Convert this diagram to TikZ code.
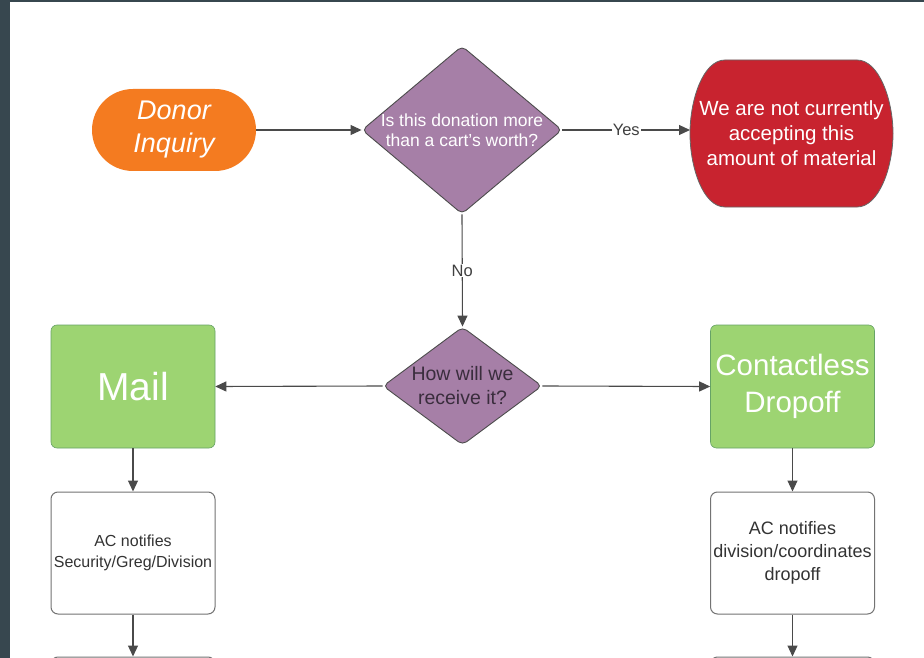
\documentclass[tikz,border=0pt]{standalone}
\usepackage{fontspec}
\setmainfont{Liberation Sans}
\usetikzlibrary{shapes.geometric,arrows.meta}
\definecolor{framecol}{HTML}{37474F}
\definecolor{orangecol}{HTML}{F47B20}
\definecolor{purplecol}{HTML}{A67FA7}
\definecolor{redcol}{HTML}{C8232F}
\definecolor{greencol}{HTML}{9DD472}
\definecolor{linecol}{HTML}{4A4A4A}
\definecolor{darktext}{HTML}{3A2D3D}
\begin{document}
\begin{tikzpicture}[x=1pt,y=-1pt,
  conn/.style={draw=linecol,line width=1.1pt,-{Triangle[length=11pt,width=10pt]}},
  decision/.style={diamond,draw=black!70,line width=0.9pt,fill=purplecol,rounded corners=5pt,inner sep=0pt},
  greenbox/.style={rectangle,draw=green!40!black!60,line width=0.6pt,fill=greencol,rounded corners=6pt,minimum width=164pt,minimum height=123pt,text=white,align=center,inner sep=0pt},
  whitebox/.style={rectangle,draw=black!55,line width=1pt,fill=white,rounded corners=7pt,minimum width=164pt,minimum height=122pt,text=black!80,align=center,inner sep=0pt},
  edgelabel/.style={fill=white,text=black!75,font=\fontsize{16.5}{19}\selectfont,inner sep=1pt}
]
\clip (0,0) rectangle (924,658);
\fill[framecol] (0,0) rectangle (924,658);
\fill[white] (10,2.5) rectangle (924,658);

\node[rectangle,fill=orangecol,rounded corners=41pt,minimum width=164pt,minimum height=82pt,inner sep=0pt,text=white,align=center,font=\fontsize{27}{33}\selectfont\itshape] (donor) at (174,130) {Donor\\Inquiry};

\node[decision,minimum width=200pt,minimum height=168pt,
  label={[text=white,align=center,font=\fontsize{17.5}{20.5}\selectfont]center:Is this donation more\\than a cart's worth?}] (q1) at (462,130) {};

\fill[redcol,draw=black!60,line width=0.8pt,line join=round]
  (725,60) -- (857,60)
  .. controls (879,60) and (893,100) .. (893,133.5)
  .. controls (893,167) and (879,207) .. (857,207)
  -- (725,207)
  .. controls (703,207) and (690,167) .. (690,133.5)
  .. controls (690,100) and (703,60) .. (725,60) -- cycle;
\node[rectangle,minimum width=196pt,minimum height=147pt,inner sep=0pt,text=white,align=center,font=\fontsize{20.5}{25}\selectfont] (red) at (791.5,133.5) {We are not currently\\accepting this\\amount of material};

\node[decision,minimum width=159pt,minimum height=118pt,
  label={[text=darktext,align=center,font=\fontsize{19.5}{24}\selectfont]center:How will we\\receive it?}] (q2) at (462.5,386) {};

\node[greenbox,font=\fontsize{39}{44}\selectfont] (mail) at (133,386.5) {Mail};
\node[greenbox,font=\fontsize{29.5}{37.5}\selectfont] (drop) at (792.5,386.5) {Contactless\\Dropoff};

\node[whitebox,font=\fontsize{16}{20.5}\selectfont] (ac1) at (133,553) {AC notifies\\Security/Greg/Division};
\node[whitebox,font=\fontsize{18}{23}\selectfont] (ac2) at (792.5,553) {AC notifies\\division/coordinates\\dropoff};

\node[whitebox] (mail2) at (133,718) {};
\node[whitebox] (drop2) at (792.5,718) {};

\coordinate (redin) at (690,130);
\draw[conn] (donor.east) -- (q1.west);
\draw[conn] (q1.east) -- node[edgelabel]{Yes} (q1.east -| redin);
\draw[conn] (q1.south) -- node[edgelabel]{No} (q2.north);
\draw[conn] (q2.west) -- (mail.east);
\draw[conn] (q2.east) -- (drop.west);
\draw[conn] (mail.south) -- (ac1.north);
\draw[conn] (drop.south) -- (ac2.north);
\draw[conn] (ac1.south) -- (mail2.north);
\draw[conn] (ac2.south) -- (drop2.north);
\end{tikzpicture}
\end{document}
